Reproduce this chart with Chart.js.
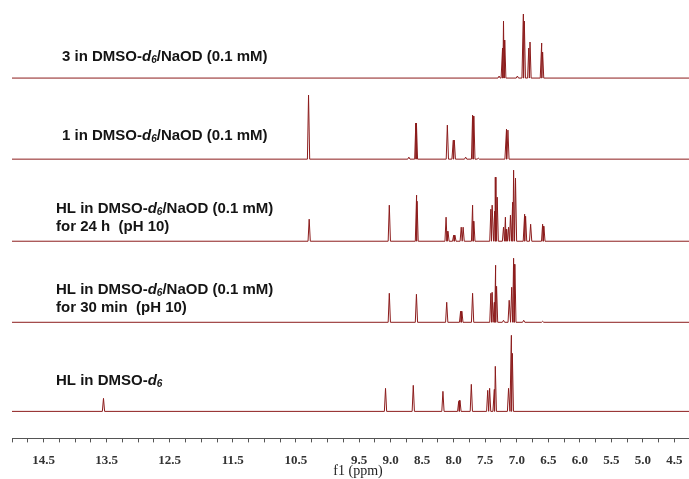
<!DOCTYPE html>
<html>
<head>
<meta charset="utf-8">
<script src="https://cdn.jsdelivr.net/npm/chart.js@4"></script>
<style>
  html, body { margin: 0; padding: 0; background: #fff; }
  #c { display: block; }
</style>
</head>
<body>
<canvas id="c" width="689" height="479"></canvas>
<script>
// ---- Data (peak positions in ppm, peak heights in arbitrary intensity units) ----
const axisMax = 15.0;
const axisMin = 4.27;
const tickLabels = ['14.5','13.5','12.5','11.5','10.5','9.5','9.0','8.5','8.0','7.5','7.0','6.5','6.0','5.5','5.0','4.5'];

// HL in DMSO-d6 (bottom)
const hlPpm = [13.55, 9.08, 8.64, 8.17, 7.92, 7.90, 7.72, 7.46, 7.43, 7.36, 7.34, 7.13, 7.09, 7.07];
const hlInt = [13, 23, 26, 20, 10, 11, 27, 21, 23, 22, 45, 23, 76, 58];

// HL in DMSO-d6/NaOD for 30 min
const hl30Ppm = [9.02, 8.59, 8.11, 7.89, 7.87, 7.70, 7.41, 7.39, 7.36, 7.34, 7.32, 7.21, 7.12, 7.08, 7.05, 7.03, 6.89, 6.59];
const hl30Int = [29, 28, 20, 11, 11, 29, 29, 30, 20, 57, 36, 2, 22, 35, 64, 58, 2, 1];

// HL in DMSO-d6/NaOD for 24 h
const hl24Ppm = [10.29, 9.02, 8.59, 8.58, 8.12, 8.09, 8.00, 7.98, 7.88, 7.85, 7.70, 7.68, 7.41, 7.39, 7.35, 7.33, 7.31, 7.21, 7.18, 7.16, 7.13, 7.10, 7.07, 7.05, 7.02, 6.88, 6.86, 6.78, 6.59, 6.57];
const hl24Int = [22, 36, 46, 40, 24, 10, 6, 6, 14, 14, 36, 20, 32, 36, 30, 64, 44, 14, 24, 12, 14, 26, 39, 71, 63, 27, 25, 17, 17, 15];

// 1 in DMSO-d6/NaOD
const c1Ppm = [10.30, 8.71, 8.60, 8.59, 8.10, 8.01, 7.99, 7.81, 7.70, 7.68, 7.61, 7.17, 7.14];
const c1Int = [64, 2, 36, 36, 34, 19, 19, 2, 44, 43, 1, 30, 29];

// 3 in DMSO-d6/NaOD
const c3Ppm = [7.28, 7.23, 7.21, 7.19, 6.99, 6.90, 6.88, 6.81, 6.79, 6.61, 6.59];
const c3Int = [2, 30, 57, 38, 2, 64, 57, 30, 36, 35, 26];

// vertical stacking offsets of each trace (bottom to top)
const traceOffsets = [0, 89, 170, 252, 333];

// ---- Build datasets ----
function buildTrace(ppm, inten, off) {
  const w = 0.018;
  const idx = ppm.map((p, i) => i).sort((a, b) => ppm[a] - ppm[b]);
  const pts = [{ x: axisMin - 0.1, y: off }];
  for (let k = 0; k < idx.length; k++) {
    const p = ppm[idx[k]], h = inten[idx[k]];
    const prev = k > 0 ? ppm[idx[k - 1]] : -Infinity;
    const next = k < idx.length - 1 ? ppm[idx[k + 1]] : Infinity;
    const wl = Math.min(w, (p - prev) / 2);
    const wr = Math.min(w, (next - p) / 2);
    pts.push({ x: p - wl, y: off });
    pts.push({ x: p, y: off + h });
    pts.push({ x: p + wr, y: off });
  }
  pts.push({ x: axisMax + 0.1, y: off });
  return pts;
}

const traceColor = 'rgb(140,28,28)';
const traces = [
  [hlPpm, hlInt], [hl30Ppm, hl30Int], [hl24Ppm, hl24Int], [c1Ppm, c1Int], [c3Ppm, c3Int]
];
const datasets = traces.map((t, i) => ({
  data: buildTrace(t[0], t[1], traceOffsets[i]),
  borderColor: traceColor,
  borderWidth: 1,
  pointRadius: 0,
  tension: 0,
  fill: false
}));

// ---- Labels ----
function labelSegs(prefix, suffix) {
  return [
    { t: prefix + 'DMSO-', f: 'bold' },
    { t: 'd', f: 'italic bold' },
    { t: '6', f: 'italic bold', sub: true },
    { t: suffix, f: 'bold' }
  ];
}
const sampleLabels = [
  { x: 62, y: 57, segs: labelSegs('3 in ', '/NaOD (0.1 mM)') },
  { x: 62, y: 136, segs: labelSegs('1 in ', '/NaOD (0.1 mM)') },
  { x: 56, y: 209, segs: labelSegs('HL in ', '/NaOD (0.1 mM)') },
  { x: 56, y: 227, segs: [{ t: 'for 24 h  (pH 10)', f: 'bold' }] },
  { x: 56, y: 290, segs: labelSegs('HL in ', '/NaOD (0.1 mM)') },
  { x: 56, y: 308, segs: [{ t: 'for 30 min  (pH 10)', f: 'bold' }] },
  { x: 56, y: 381, segs: labelSegs('HL in ', '') }
];

const textPlugin = {
  id: 'texts',
  afterDraw(chart) {
    const ctx = chart.ctx;
    ctx.save();
    ctx.fillStyle = '#141414';
    ctx.textBaseline = 'middle';
    ctx.textAlign = 'left';
    for (const L of sampleLabels) {
      let x = L.x;
      for (const s of L.segs) {
        ctx.font = s.f + ' ' + (s.sub ? 10 : 15) + 'px "Liberation Sans", Arial, sans-serif';
        ctx.fillText(s.t, x, L.y + (s.sub ? 3.5 : 0));
        x += ctx.measureText(s.t).width;
      }
    }
    ctx.font = '14px "Liberation Serif", "Times New Roman", serif';
    ctx.fillStyle = '#222';
    ctx.textAlign = 'center';
    ctx.fillText('f1 (ppm)', 358, 471);
    ctx.restore();
  }
};

new Chart(document.getElementById('c'), {
  type: 'line',
  data: { datasets },
  options: {
    responsive: false,
    animation: false,
    events: [],
    layout: { padding: { left: 12, right: 0, top: 0, bottom: 1 } },
    plugins: { legend: { display: false }, tooltip: { enabled: false } },
    scales: {
      x: {
        type: 'linear',
        reverse: true,
        min: axisMin,
        max: axisMax,
        afterFit: (scale) => { scale.paddingLeft = 0; scale.paddingRight = 0; },
        border: { display: true, color: '#555', width: 1 },
        grid: { drawOnChartArea: false, drawTicks: true, tickLength: 4, tickColor: '#555' },
        ticks: {
          stepSize: 0.25,
          includeBounds: false,
          autoSkip: false,
          maxRotation: 0,
          padding: 10,
          color: '#333',
          font: { family: '"Liberation Serif", "Times New Roman", serif', size: 13, weight: 'bold' },
          callback: (v) => {
            const s = Number(v).toFixed(1);
            return (tickLabels.includes(s) && Math.abs(v * 2 - Math.round(v * 2)) < 1e-6) ? s : '';
          }
        }
      },
      y: { display: false, min: -27, max: 411 }
    }
  },
  plugins: [textPlugin]
});
</script>
</body>
</html>
